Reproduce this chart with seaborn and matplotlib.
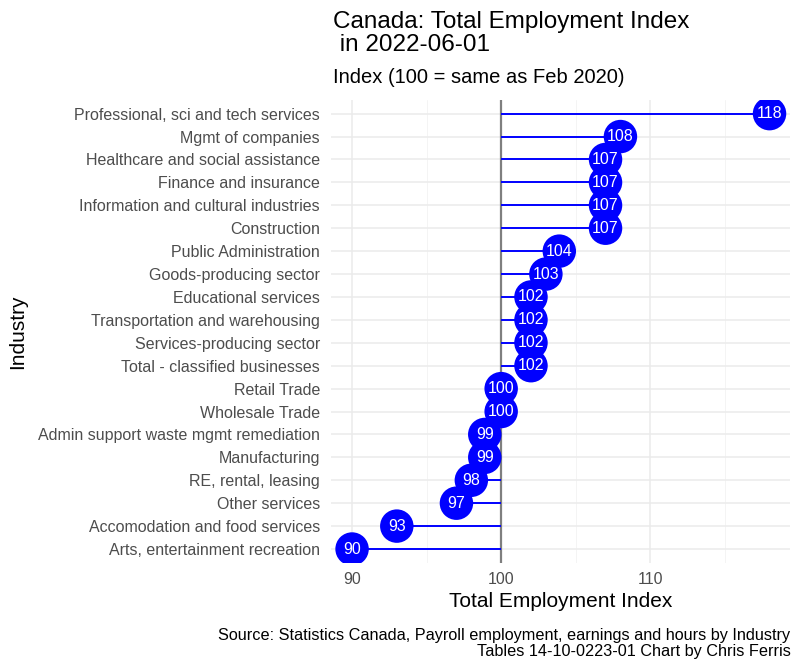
import pandas as pd
import seaborn as sns
import matplotlib.pyplot as plt
from matplotlib.ticker import MultipleLocator

sns.set_theme(style="whitegrid")
plt.rcParams['font.family'] = ['Liberation Sans', 'DejaVu Sans']
plt.rcParams['text.color'] = 'black'

# industries listed top to bottom as in the chart
industries = [
    "Professional, sci and tech services",
    "Mgmt of companies",
    "Healthcare and social assistance",
    "Finance and insurance",
    "Information and cultural industries",
    "Construction",
    "Public Administration",
    "Goods-producing sector",
    "Educational services",
    "Transportation and warehousing",
    "Services-producing sector",
    "Total - classified businesses",
    "Retail Trade",
    "Wholesale Trade",
    "Admin support waste mgmt remediation",
    "Manufacturing",
    "RE, rental, leasing",
    "Other services",
    "Accomodation and food services",
    "Arts, entertainment recreation",
]
index_values = [118.0, 108.0, 107.0, 107.0, 107.0, 107.0, 103.9, 103.0, 102.0, 102.0,
                102.0, 102.0, 100.0, 100.0, 98.9, 98.9, 98.0, 97.0, 93.0, 90.0]

df = pd.DataFrame({"Industry": industries, "Index": index_values})
# first category goes to the bottom, so reverse
df = df.iloc[::-1].reset_index(drop=True)

fig = plt.figure(figsize=(8, 6.66), dpi=100)
ax = fig.add_axes([0.414, 0.155, 0.574, 0.695])

ax.axvline(100, color="#7f7f7f", lw=1.6, zorder=2)
ax.hlines(y=df["Industry"], xmin=100, xmax=df["Index"], color="blue", lw=1.4, zorder=3)
sns.scatterplot(data=df, x="Index", y="Industry", s=580, color="blue",
                edgecolor="none", ax=ax, zorder=4)
for _, r in df.iterrows():
    ax.text(r["Index"], r["Industry"], f"{r['Index']:.0f}", color="white",
            ha="center", va="center", fontsize=11.5, zorder=5)

ax.set_xlim(88.6, 119.4)
ax.set_ylim(-0.6, len(df) - 0.4)
ax.xaxis.set_major_locator(MultipleLocator(10))
ax.xaxis.set_minor_locator(MultipleLocator(5))
ax.grid(which="major", color="#ebebeb", lw=1.1)
ax.grid(which="minor", axis="x", color="#f2f2f2", lw=0.6)
ax.set_axisbelow(True)
for sp in ax.spines.values():
    sp.set_visible(False)
ax.tick_params(axis="both", which="both", length=0, labelsize=11.5,
               labelcolor="#4d4d4d")
ax.tick_params(axis="y", pad=8)
ax.tick_params(axis="x", pad=7)

ax.set_xlabel("Total Employment Index", fontsize=15, color="black", labelpad=3)
ax.set_ylabel("Industry", fontsize=15, color="black")
ax.yaxis.set_label_coords(-0.662, 0.5)

fig.text(0.416, 0.984, "Canada: Total Employment Index\n in 2022-06-01", fontsize=17.5,
         ha="left", va="top", linespacing=1.05)
fig.text(0.416, 0.884, "Index (100 = same as Feb 2020)", fontsize=14.5, ha="left", va="center")
fig.text(0.988, 0.01, "Source: Statistics Canada, Payroll employment, earnings and hours by Industry\n"
         "Tables 14-10-0223-01 Chart by Chris Ferris", fontsize=11.7, ha="right", va="bottom",
         multialignment="right", linespacing=1.1)

plt.savefig("out.png", dpi=100)
